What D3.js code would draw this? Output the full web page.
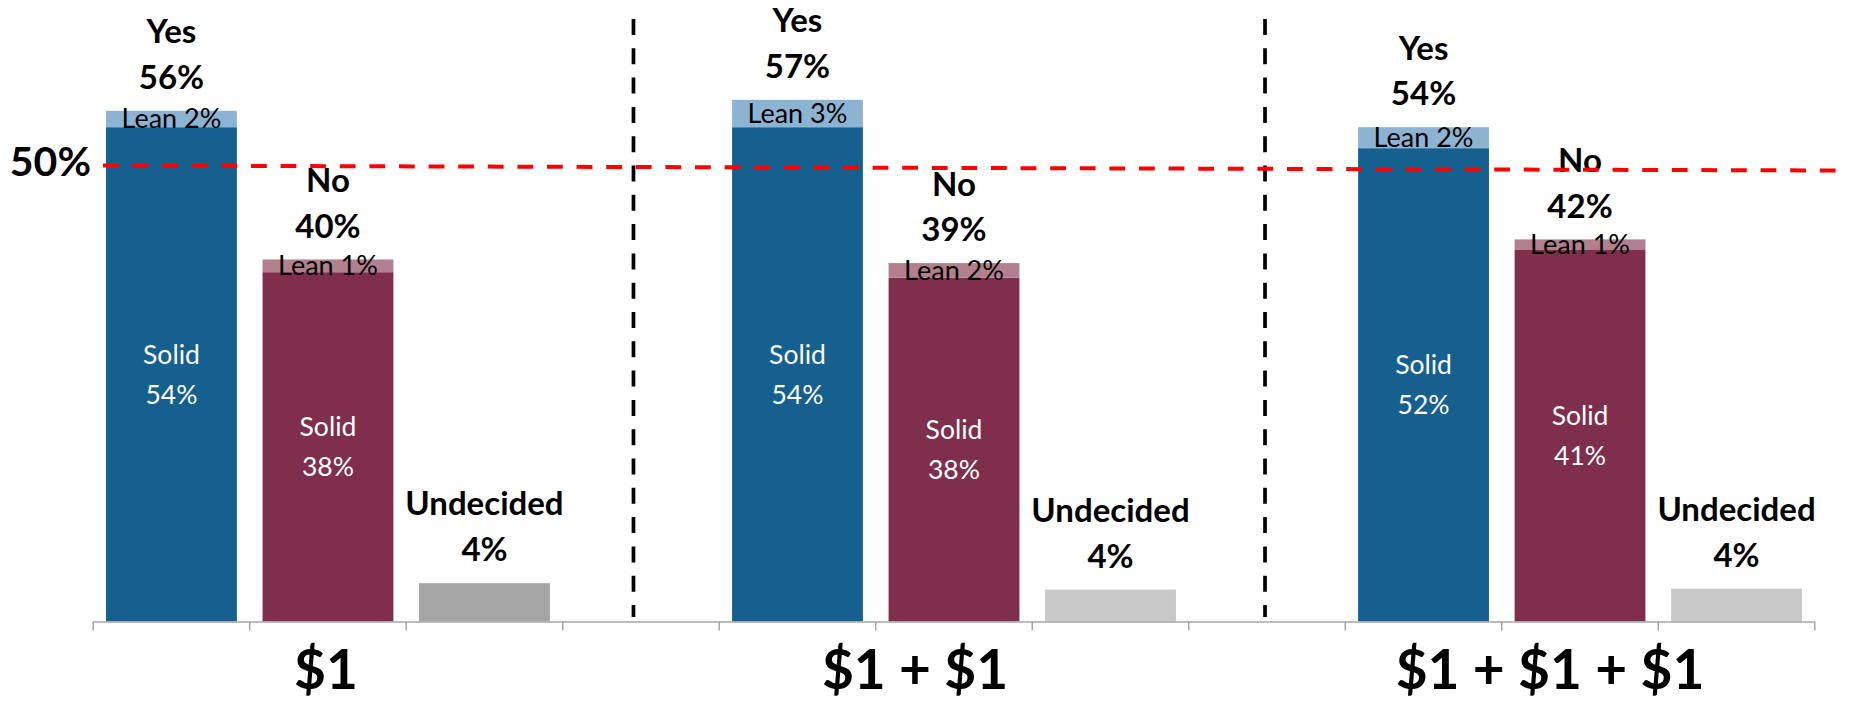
<!DOCTYPE html>
<html>
<head>
<meta charset="utf-8">
<script src="https://cdn.jsdelivr.net/npm/d3@7"></script>
<style>
  html, body { margin: 0; padding: 0; background: #fff; }
  svg { display: block; }
  text { font-family: Lato, "Open Sans", sans-serif; }
</style>
</head>
<body>
<svg id="chart" width="1849" height="704"></svg>
<script>
// ---- data ----
const categories = ["$1", "$1 + $1", "$1 + $1 + $1"];
const yesSolid = [54.2, 54.2, 51.9];
const yesLean = [1.8, 3.0, 2.3];
const noSolid = [38.3, 37.7, 40.8];
const noLean = [1.4, 1.6, 1.1];
const undecided = [4.2, 3.5, 3.6];
const yesTotalLabels = ["56%", "57%", "54%"];
const yesSolidLabels = ["54%", "54%", "52%"];
const yesLeanLabels = ["Lean 2%", "Lean 3%", "Lean 2%"];
const noTotalLabels = ["40%", "39%", "42%"];
const noSolidLabels = ["38%", "38%", "41%"];
const noLeanLabels = ["Lean 1%", "Lean 2%", "Lean 1%"];
const undecidedLabels = ["4%", "4%", "4%"];
const refLineEnds = [50, 49.45];
const refLabel = "50%";

// ---- layout ----
const svg = d3.select("#chart");

const slots = [];
categories.forEach((c, i) => {
  slots.push(i + "-yes", i + "-no", i + "-und");
  if (i < categories.length - 1) slots.push(i + "-gap");
});

const x = d3.scaleBand().domain(slots).range([93.2, 1814.8]).paddingInner(0.164).paddingOuter(0.082);
const y = d3.scaleLinear().domain([0, 100]).range([621.5, 621.5 - 912]);
const bw = x.bandwidth();
const step = x.step();

const colors = {
  yesSolid: "#15608F", yesLean: "#8DB3D3",
  noSolid: "#7F2E4C", noLean: "#B17F8E",
  und: ["#A5A5A5", "#C8C8C8", "#C8C8C8"]
};

// bars
const segs = [];
categories.forEach((c, i) => {
  segs.push({slot: i + "-yes", y0: 0, y1: yesSolid[i], fill: colors.yesSolid});
  segs.push({slot: i + "-yes", y0: yesSolid[i], y1: yesSolid[i] + yesLean[i], fill: colors.yesLean});
  segs.push({slot: i + "-no", y0: 0, y1: noSolid[i], fill: colors.noSolid});
  segs.push({slot: i + "-no", y0: noSolid[i], y1: noSolid[i] + noLean[i], fill: colors.noLean});
  segs.push({slot: i + "-und", y0: 0, y1: undecided[i], fill: colors.und[i]});
});

svg.append("g").selectAll("rect").data(segs).join("rect")
  .attr("x", d => x(d.slot))
  .attr("width", bw)
  .attr("y", d => y(d.y1))
  .attr("height", d => y(d.y0) - y(d.y1))
  .attr("fill", d => d.fill);

// axis line + ticks at band boundaries
const axisG = svg.append("g");
const r0 = x.range()[0], r1 = x.range()[1];
axisG.append("line").attr("x1", r0).attr("x2", r1).attr("y1", y(0) + 0.5).attr("y2", y(0) + 0.5)
  .attr("stroke", "#A6A6A6").attr("stroke-width", 1.5);
const tickPos = d3.range(slots.length + 1).map(i => r0 + i * step);
axisG.selectAll("line.tick").data(tickPos).join("line").attr("class", "tick")
  .attr("x1", d => d).attr("x2", d => d)
  .attr("y1", y(0)).attr("y2", y(0) + 9)
  .attr("stroke", "#A6A6A6").attr("stroke-width", 1.5);

// category labels (text boxes sit slightly left of the middle bar)
const catShift = [-2, -39, -30];
svg.append("g").selectAll("text").data(categories).join("text")
  .attr("x", (c, i) => x(i + "-no") + bw / 2 + catShift[i])
  .attr("y", 689)
  .attr("text-anchor", "middle")
  .attr("font-weight", "bold")
  .attr("font-size", 55)
  .attr("fill", "#000")
  .text(c => c);

// vertical separators
const gaps = slots.filter(s => s.endsWith("gap"));
const sepShift = [-7.5, -2];
svg.append("g").selectAll("line").data(gaps).join("line")
  .attr("x1", (s, i) => x(s) + bw / 2 + sepShift[i]).attr("x2", (s, i) => x(s) + bw / 2 + sepShift[i])
  .attr("y1", 19).attr("y2", 617)
  .attr("stroke", "#000").attr("stroke-width", 3.7)
  .attr("stroke-dasharray", "16,13.3");

// label helpers
const lab = svg.append("g");
function addText(xp, yp, txt, size, weight, fill) {
  lab.append("text").attr("x", xp).attr("y", yp)
    .attr("text-anchor", "middle")
    .attr("font-size", size).attr("font-weight", weight).attr("fill", fill)
    .text(txt);
}

categories.forEach((c, i) => {
  // YES
  const xy = x(i + "-yes") + bw / 2;
  const topY = y(yesSolid[i] + yesLean[i]);
  addText(xy, topY - 67.5, "Yes", 33, "bold", "#000");
  addText(xy, topY - 21.7, yesTotalLabels[i], 33, "bold", "#000");
  const leanMidY = (y(yesSolid[i]) + topY) / 2;
  addText(xy, leanMidY + 9.5, yesLeanLabels[i], 27, "normal", "#000");
  const solidMidY = (y(0) + y(yesSolid[i])) / 2;
  addText(xy, solidMidY - 20 + 9.5, "Solid", 26.5, "normal", "#fff");
  addText(xy, solidMidY + 20 + 9.5, yesSolidLabels[i], 26.5, "normal", "#fff");

  // NO
  const xn = x(i + "-no") + bw / 2;
  const topN = y(noSolid[i] + noLean[i]);
  addText(xn, topN - 67.5, "No", 33, "bold", "#000");
  addText(xn, topN - 21.7, noTotalLabels[i], 33, "bold", "#000");
  const leanMidN = (y(noSolid[i]) + topN) / 2;
  addText(xn, leanMidN + 9.5, noLeanLabels[i], 27, "normal", "#000");
  const solidMidN = (y(0) + y(noSolid[i])) / 2;
  addText(xn, solidMidN - 20 + 9.5, "Solid", 26.5, "normal", "#fff");
  addText(xn, solidMidN + 20 + 9.5, noSolidLabels[i], 26.5, "normal", "#fff");

  // UNDECIDED
  const xu = x(i + "-und") + bw / 2;
  const topU = y(undecided[i]);
  addText(xu, topU - 68, "Undecided", 33, "bold", "#000");
  addText(xu, topU - 21.7, undecidedLabels[i], 33, "bold", "#000");
});

// 50% reference line
svg.append("line")
  .attr("x1", 103).attr("x2", 1845)
  .attr("y1", y(refLineEnds[0])).attr("y2", y(refLineEnds[1]))
  .attr("stroke", "#FF0000").attr("stroke-width", 4)
  .attr("stroke-dasharray", "15.8,13.8");

svg.append("text")
  .attr("x", 91).attr("y", y(refLineEnds[0]) + 10)
  .attr("text-anchor", "end")
  .attr("font-size", 41).attr("font-weight", "bold").attr("fill", "#000")
  .text(refLabel);
</script>
</body>
</html>
